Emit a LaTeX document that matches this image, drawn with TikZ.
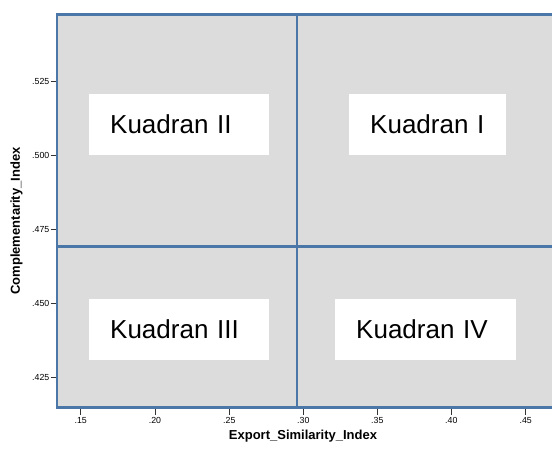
\documentclass[tikz,border=0pt]{standalone}
\usepackage{fontspec}
\setmainfont{Liberation Sans}
\usetikzlibrary{positioning}
\definecolor{frameblue}{HTML}{4A76A8}
\definecolor{plotgray}{HTML}{DCDCDC}

\begin{document}
\begin{tikzpicture}[x=1pt, y=-1pt,
  kbox/.style={fill=white, anchor=north west, minimum height=61pt, inner xsep=21pt,
    align=left, font=\fontsize{26}{28}\selectfont},
  ticklabel/.style={font=\fontsize{8.8}{10}\selectfont, inner sep=1pt},
  axislabel/.style={font=\bfseries\fontsize{13}{15}\selectfont},
  divider/.style={frameblue, line width=2.6pt}]
\useasboundingbox (0,0) rectangle (552,450);
  % plot area
  \fill[plotgray] (57,14.7) rectangle (552,407.5);
  \draw[divider] (552,14.7) -- (57,14.7) -- (57,407.5) -- (552,407.5);
  \draw[divider] (297,14.7) -- (297,407.5);
  \draw[divider] (57,246.5) -- (552,246.5);
  % quadrant labels
  \node[kbox, text width=138pt] (kII)  at (89,94)  {Kuadran II};
  \node[kbox, text width=115pt] (kI)   at (349,94) {Kuadran I};
  \node[kbox, text width=138pt] (kIII) at (89,299) {Kuadran III};
  \node[kbox, text width=139pt] (kIV)  at (335,299) {Kuadran IV};
  % ticks
  \foreach \v/\x in {.15/80.7, .20/155, .25/229.3, .30/303.3, .35/377.3, .40/451.3, .45/525.7}{
    \draw[black!80, line width=0.8pt] (\x,409) -- (\x,415);
    \node[ticklabel, below] at (\x,416.5) {\v};
  }
  \foreach \v/\y in {.525/81.5, .500/155.5, .475/229.5, .450/303.5, .425/377.5}{
    \draw[black!80, line width=0.8pt] (50.5,\y) -- (55.8,\y);
    \node[ticklabel, left] at (50.5,\y) {\v};
  }
  % axis titles
  \node[axislabel] (xtitle) at (303,436) {Export\_Similarity\_Index};
  \node[axislabel, rotate=90] (ytitle) at (16.5,221) {Complementarity\_Index};
\end{tikzpicture}
\end{document}
